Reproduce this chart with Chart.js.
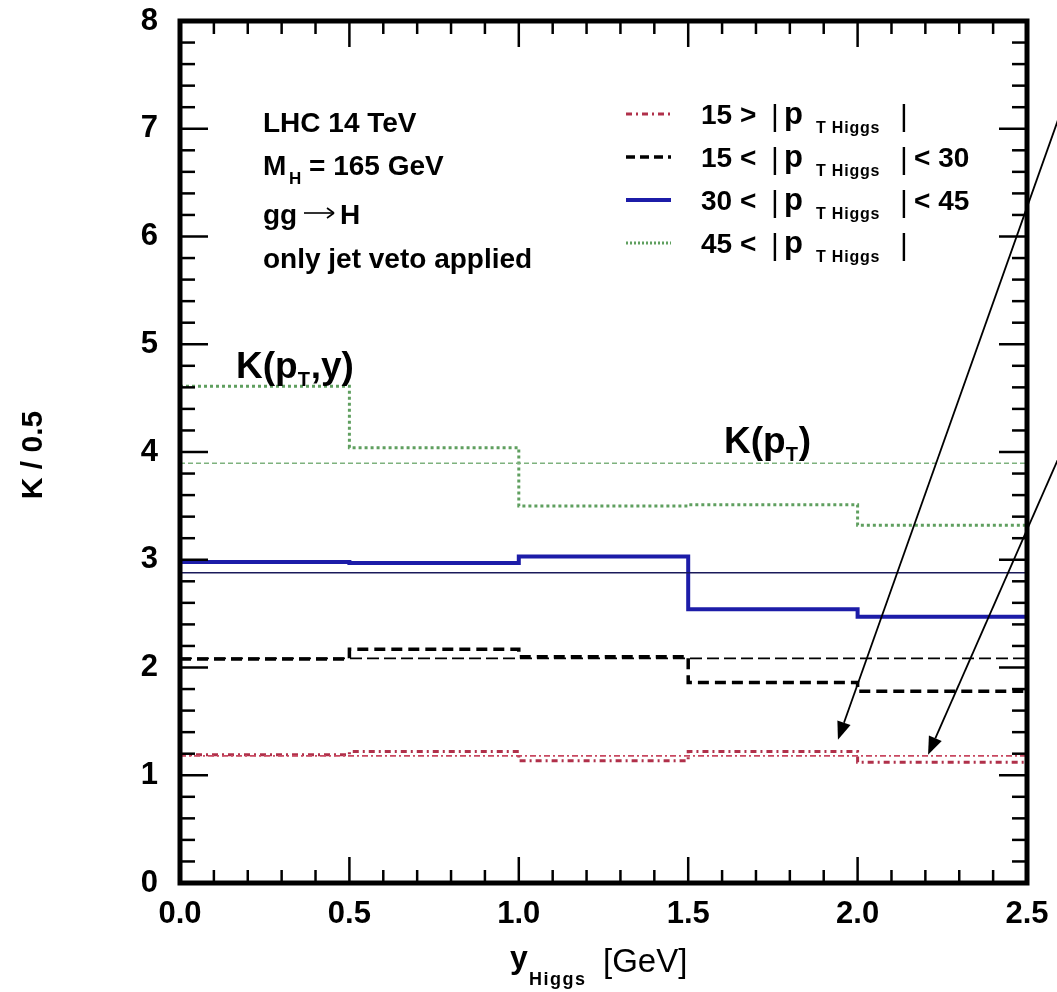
<!DOCTYPE html>
<html lang="en">
<head>
<meta charset="UTF-8">
<title>K / 0.5 vs y Higgs</title>
<script src="https://cdn.jsdelivr.net/npm/chart.js"></script>
<style>
  html, body { margin: 0; padding: 0; background: #fff; }
  canvas { display: block; }
</style>
</head>
<body>
<canvas id="kChart" width="1057" height="992"></canvas>
<script>
// rapidity bins
const binEdges = [0.0, 0.5, 1.0, 1.5, 2.0, 2.5];
const xTickValues = [0.0, 0.5, 1.0, 1.5, 2.0, 2.5];
const yTickValues = [0, 1, 2, 3, 4, 5, 6, 7, 8];

// K(pT, y) per bin, one array per pT range
const kLow = [1.19, 1.22, 1.135, 1.22, 1.12];   // 15 > |pT|
const kMid = [2.08, 2.17, 2.10, 1.86, 1.78];    // 15 < |pT| < 30
const kHigh = [2.98, 2.97, 3.03, 2.54, 2.47];   // 30 < |pT| < 45
const kTop = [4.61, 4.04, 3.50, 3.51, 3.32];    // 45 < |pT|

// K(pT) only, flat in y (same order)
const kFlat = [1.18, 2.085, 2.88, 3.895];

const legendLeft = ['15 >', '15 <', '30 <', '45 <'];
const legendRight = ['', '< 30', '< 45', ''];

const infoLines = ['LHC 14 TeV', 'M_H = 165 GeV', 'gg \u2192 H', 'only jet veto applied'];

// arrows pointing at the K(pT,y) and K(pT) red lines, in data units
const arrowTails = [[2.615, 7.29], [2.615, 4.10]];
const arrowTips = [[1.942, 1.33], [2.208, 1.19]];

const styles = [
  { color: '#b0304a', flatColor: '#c84860', width: 3, flatWidth: 1.6, dash: [6, 4, 2, 4], flatDash: [6, 3, 2, 3] },
  { color: '#000000', flatColor: '#000000', width: 3.5, flatWidth: 1.8, dash: [11, 6], flatDash: [12, 5] },
  { color: '#1c1ca8', flatColor: '#1a1a5a', width: 4, flatWidth: 1.6, dash: [], flatDash: [] },
  { color: '#5f9f5f', flatColor: '#7eb27e', width: 3, flatWidth: 1.6, dash: [3, 3], flatDash: [5, 3] }
];

function steps(vals) {
  const pts = vals.map((v, i) => ({ x: binEdges[i], y: v }));
  pts.push({ x: binEdges[binEdges.length - 1], y: vals[vals.length - 1] });
  return pts;
}
function flat(c) {
  return [{ x: binEdges[0], y: c }, { x: binEdges[binEdges.length - 1], y: c }];
}

const histos = [kLow, kMid, kHigh, kTop];
const datasets = [];
kFlat.forEach((c, i) => {
  const s = styles[i];
  datasets.push({ data: flat(c), borderColor: s.flatColor, borderWidth: s.flatWidth, borderDash: s.flatDash });
});
histos.forEach((h, i) => {
  const s = styles[i];
  datasets.push({ data: steps(h), stepped: 'before', borderColor: s.color, borderWidth: s.width, borderDash: s.dash });
});

const FONT = '"Liberation Sans", Arial, sans-serif';

function seg(ctx, x1, y1, x2, y2) {
  ctx.beginPath();
  ctx.moveTo(x1, y1);
  ctx.lineTo(x2, y2);
  ctx.stroke();
}

function text(ctx, t, x, y, font, ls) {
  ctx.font = font;
  ctx.letterSpacing = ls || '0px';
  ctx.fillText(t, x, y);
  ctx.letterSpacing = '0px';
}

const decorations = {
  id: 'decorations',
  afterDraw(chart) {
    const { ctx, chartArea: a, scales: { x, y } } = chart;
    ctx.save();
    ctx.strokeStyle = '#000';
    ctx.fillStyle = '#000';
    ctx.setLineDash([]);

    // inward ticks on all four sides
    ctx.lineWidth = 2.5;
    for (let i = 1; i < 25; i++) {
      const px = x.getPixelForValue(i / 10);
      const len = i % 5 === 0 ? 26 : 13;
      seg(ctx, px, a.bottom, px, a.bottom - len);
      seg(ctx, px, a.top, px, a.top + len);
    }
    for (let i = 1; i < 40; i++) {
      const py = y.getPixelForValue(i / 5);
      const len = i % 5 === 0 ? 28 : 15;
      seg(ctx, a.left, py, a.left + len, py);
      seg(ctx, a.right, py, a.right - len, py);
    }
    ctx.lineWidth = 5;
    ctx.strokeRect(a.left, a.top, a.right - a.left, a.bottom - a.top);

    // axis titles
    ctx.textBaseline = 'alphabetic';
    ctx.textAlign = 'left';
    text(ctx, 'y', 510, 968, 'bold 32px ' + FONT);
    text(ctx, 'Higgs', 529, 985, 'bold 18px ' + FONT, '1.5px');
    text(ctx, '[GeV]', 603, 972, '33px ' + FONT);

    ctx.save();
    ctx.translate(42, 455);
    ctx.rotate(-Math.PI / 2);
    ctx.textAlign = 'center';
    text(ctx, 'K / 0.5', 0, 0, 'bold 30px ' + FONT);
    ctx.restore();

    // info block
    const B = 'bold 28px ' + FONT;
    text(ctx, infoLines[0], 263, 132, B);
    text(ctx, 'M', 263, 175, B);
    text(ctx, 'H', 289, 184, 'bold 17px ' + FONT);
    text(ctx, '= 165 GeV', 309, 175, B);
    text(ctx, 'gg', 263, 224, B);
    ctx.lineWidth = 1.6;
    seg(ctx, 304, 213, 334, 213);
    seg(ctx, 327, 208, 334, 213);
    seg(ctx, 327, 218, 334, 213);
    text(ctx, 'H', 340, 224, B);
    text(ctx, infoLines[3], 263, 268, B);

    // curve labels
    const K = 'bold 37px ' + FONT;
    const KS = 'bold 20px ' + FONT;
    ctx.font = K;
    const w = ctx.measureText('K(p').width;
    text(ctx, 'K(p', 236, 378, K);
    text(ctx, 'T', 236 + w, 386, KS);
    text(ctx, ',y)', 236 + w + 13, 378, K);
    text(ctx, 'K(p', 724, 453, K);
    text(ctx, 'T', 724 + w, 461, KS);
    text(ctx, ')', 724 + w + 13, 453, K);

    // legend
    const rows = [114, 157, 200, 243];
    const L = 'bold 28px ' + FONT;
    rows.forEach((ry, i) => {
      const s = styles[i];
      ctx.strokeStyle = s.color;
      ctx.lineWidth = s.width;
      ctx.setLineDash(i === 3 ? [2, 2] : i === 1 ? [9, 5] : s.dash);
      seg(ctx, 626, ry, 671, ry);
      ctx.setLineDash([]);
      text(ctx, legendLeft[i], 701, ry + 10, L);
      text(ctx, '|', 771, ry + 12, '30px ' + FONT);
      text(ctx, 'p', 784, ry + 10, 'bold 31px ' + FONT);
      text(ctx, 'T Higgs', 816, ry + 19, 'bold 16px ' + FONT, '0.8px');
      text(ctx, '|', 900, ry + 12, '30px ' + FONT);
      if (legendRight[i]) text(ctx, legendRight[i], 914, ry + 10, L);
    });

    // arrows
    ctx.strokeStyle = '#000';
    ctx.fillStyle = '#000';
    ctx.lineWidth = 1.8;
    arrowTails.forEach((t, i) => {
      const x1 = x.getPixelForValue(t[0]), y1 = y.getPixelForValue(t[1]);
      const x2 = x.getPixelForValue(arrowTips[i][0]), y2 = y.getPixelForValue(arrowTips[i][1]);
      const ang = Math.atan2(y2 - y1, x2 - x1);
      const hl = 18, hw = 7;
      const bx = x2 - hl * Math.cos(ang), by = y2 - hl * Math.sin(ang);
      seg(ctx, x1, y1, bx, by);
      ctx.beginPath();
      ctx.moveTo(x2, y2);
      ctx.lineTo(bx + hw * Math.sin(ang), by - hw * Math.cos(ang));
      ctx.lineTo(bx - hw * Math.sin(ang), by + hw * Math.cos(ang));
      ctx.closePath();
      ctx.fill();
    });
    ctx.restore();
  }
};

const tickFont = { family: FONT, size: 31, weight: 'bold' };

new Chart(document.getElementById('kChart'), {
  type: 'line',
  data: { datasets: datasets },
  options: {
    responsive: false,
    animation: false,
    elements: { point: { radius: 0 }, line: { tension: 0, fill: false } },
    layout: { padding: { top: 21, right: 30, left: 0, bottom: 0 } },
    plugins: { legend: { display: false }, tooltip: { enabled: false } },
    scales: {
      x: {
        type: 'linear',
        min: binEdges[0],
        max: binEdges[binEdges.length - 1],
        afterBuildTicks: s => { s.ticks = xTickValues.map(v => ({ value: v })); },
        afterFit: s => { s.height = 109; s.paddingLeft = 0; s.paddingRight = 0; },
        ticks: { font: tickFont, color: '#000', padding: 13, maxRotation: 0, callback: v => v.toFixed(1) },
        grid: { display: false, drawTicks: false },
        border: { display: false }
      },
      y: {
        type: 'linear',
        min: 0,
        max: 8,
        afterBuildTicks: s => { s.ticks = yTickValues.map(v => ({ value: v })); },
        afterFit: s => { s.width = 180; s.paddingTop = 0; s.paddingBottom = 0; },
        ticks: { font: tickFont, color: '#000', padding: 22 },
        grid: { display: false, drawTicks: false },
        border: { display: false }
      }
    }
  },
  plugins: [decorations]
});
</script>
</body>
</html>
